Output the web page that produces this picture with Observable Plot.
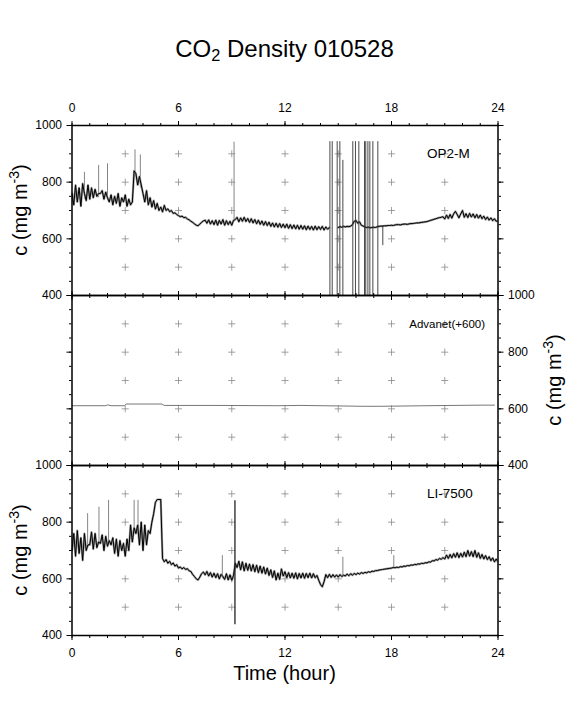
<!DOCTYPE html>
<html><head><meta charset="utf-8">
<script src="https://cdn.jsdelivr.net/npm/d3@7"></script>
<script src="https://cdn.jsdelivr.net/npm/@observablehq/plot@0.6"></script>
<style>
body{margin:0;background:#fff;}
#chart{position:relative;width:569px;height:708px;background:#fff;font-family:"Liberation Sans",Arial,Helvetica,sans-serif;overflow:hidden}
#title{position:absolute;left:0;width:569px;top:35px;text-align:center;font-size:24px;line-height:normal;color:#000}
#title sub{font-size:0.68em;position:relative;top:0.25em;vertical-align:baseline;line-height:0}
</style></head><body>
<div id="chart"><div id="title">CO<sub>2</sub> Density 010528</div></div>
<script>
// ---- data (sampled every 0.1 hour) ----
const STEP = 0.1;
const op2Values = [
 760,720,790,730,780,715,795,760,735,790,
 740,780,745,775,750,760,760,770,740,765,
 745,730,755,720,750,725,760,715,745,730,
 755,715,740,720,730,840,830,790,820,790,
 760,730,770,720,745,712,735,705,725,700,
 712,695,718,700,706,696,700,690,692,686,
 682,678,680,675,676,670,667,662,658,653,
 648,646,652,658,663,666,655,667,652,664,
 650,666,648,665,652,668,648,664,650,662,
 648,665,668,676,660,674,662,676,661,672,
 658,671,656,668,653,666,651,663,648,661,
 647,659,644,656,642,655,641,654,640,652,
 639,652,637,650,636,649,635,648,634,647,
 634,646,632,645,633,644,631,645,632,643,
 633,644,631,642,634,640,null,null,null,null,
 640,643,641,644,642,644,643,645,650,662,
 665,655,660,648,645,642,640,641,639,640,
 641,640,643,644,645,645,646,646,647,647,
 648,647,649,650,650,649,651,652,652,651,
 653,654,654,655,656,656,657,658,659,660,
 661,663,665,667,669,671,673,675,676,678,
 670,684,672,686,673,688,697,686,674,688,
 700,676,689,675,690,677,688,674,686,673,
 684,671,680,668,677,666,674,664,671,662,
 664
];
// isolated one-sample peaks (hour, peak value, local level)
const op2PeakHours = [0.7, 1.5, 2.0, 3.55, 3.85, 9.13];
const op2PeakTop   = [835, 859, 865, 914, 896, 941];
const op2PeakBase  = [740, 745, 735, 820, 780, 660];
// out-of-range samples between 14.5 h and 17.5 h
const op2SpikeHours  = [14.53,14.66,14.94,15.09,15.26,15.82,15.97,16.16,16.48,16.55,16.67,16.78,16.95,17.23,17.51];
const op2SpikeTop    = [943,943,943,943,877,943,943,943,943,943,943,943,943,943,647];
const op2SpikeBottom = [400,400,400,400,400,400,400,400,400,400,400,400,400,400,576];

const advHours  = [0,1.9,2.0,2.2,2.95,3.05,5.05,5.2,8,11.6,12.9,16.4,17.4,20,23,23.8];
const advValues = [611,611,614,611,611,617,617,612,612,611,612,609,609,611,613,613];

const liValues = [
 700,760,680,770,690,745,665,760,700,720,
 720,765,705,760,710,730,725,755,700,750,
 715,735,720,745,690,740,680,735,700,725,
 680,740,700,790,730,780,760,790,720,800,
 700,790,720,770,760,800,830,870,880,880,
 880,672,660,668,655,662,650,656,645,650,
 638,642,635,640,633,636,628,626,615,608,
 600,596,606,618,624,614,626,610,622,606,
 620,604,618,600,616,608,598,618,596,614,
 595,612,655,640,662,632,660,628,655,630,
 652,628,650,625,648,622,645,620,642,617,
 638,612,632,605,628,596,620,598,635,610,
 625,604,622,603,620,602,621,600,619,603,
 620,602,619,604,620,603,618,604,612,595,
 580,572,590,615,604,616,605,615,606,614,
 606,615,608,613,610,617,611,618,613,619,
 615,620,617,622,619,623,621,625,623,627,
 626,629,629,631,632,633,634,635,636,637,
 638,640,639,641,640,643,642,645,644,647,
 646,649,648,651,650,653,652,655,654,657,
 656,660,659,664,663,668,666,672,669,675,
 670,684,672,686,674,689,676,692,675,690,
 677,694,678,700,680,696,678,700,676,692,
 672,686,670,682,668,678,664,674,660,670,
 660
];
const liPeakHours = [0.88, 1.52, 2.06, 3.5, 3.72, 8.47, 15.26, 18.13];
const liPeakTop   = [830, 853, 877, 877, 877, 682, 676, 682];
const liPeakBase  = [710, 720, 720, 760, 760, 600, 610, 638];
const liSpikeHours  = [9.18];
const liSpikeTop    = [876];
const liSpikeBottom = [438];

const panelNames  = ["OP2-M", "Advanet(+600)", "LI-7500"];
const nameHours   = [20, 19, 20];
const nameLevel   = 900;

const hourMajor = [0, 6, 12, 18, 24];
const hourMinor = d3.range(0, 25, 1);
const concMajor = [400, 600, 800, 1000];
const concMinor = d3.range(400, 1001, 50);
const gridHours = [3, 6, 9, 12, 15, 18, 21];
const gridLevels = [500, 600, 700, 800, 900];

// ---- tables ----
const series = vals => vals.map((v, i) => ({t: i * STEP, v}));
const op2 = series(op2Values);
const li = series(liValues);
const adv = advHours.map((t, i) => ({t, v: advValues[i]}));
const spikes = (T, A, B) => T.map((t, i) => ({t, a: A[i], b: B[i]}));
const crosses = gridHours.flatMap(t => gridLevels.map(v => ({t, v})));

const FONT = '"Liberation Sans", Arial, Helvetica, sans-serif';
const W = 569, ML = 71.5, MR = 71.5, PH = 170;
const chart = document.getElementById("chart");
const fmt = d => String(d);

function axes(ySide, xSide) {
  return [
    Plot.axisX(hourMinor, {anchor: "top", tickSize: 3, fill: "none", label: null}),
    Plot.axisX(hourMinor, {anchor: "bottom", tickSize: 3, fill: "none", label: null}),
    Plot.axisX(hourMajor, {anchor: "top", tickSize: 5, tickPadding: 9, fontSize: 12, tickFormat: fmt, fill: xSide === "top" ? "black" : "none", label: null}),
    Plot.axisX(hourMajor, {anchor: "bottom", tickSize: 5, tickPadding: 8, fontSize: 12, tickFormat: fmt, fill: xSide === "bottom" ? "black" : "none", label: null}),
    Plot.axisY(concMinor, {anchor: "left", tickSize: 2.5, fill: "none", label: null}),
    Plot.axisY(concMinor, {anchor: "right", tickSize: 2.5, fill: "none", label: null}),
    Plot.axisY(concMajor, {anchor: "left", tickSize: 5, tickPadding: 5, fontSize: 12, tickFormat: fmt, fill: ySide === "left" ? "black" : "none", label: null}),
    Plot.axisY(concMajor, {anchor: "right", tickSize: 5, tickPadding: 5, fontSize: 12, tickFormat: fmt, fill: ySide === "right" ? "black" : "none", label: null})
  ];
}

function noisyLine(data) {
  return [
    Plot.line(data, {x: "t", y: "v", stroke: "#9a9a9a", strokeWidth: 2.2, clip: true}),
    Plot.line(data, {x: "t", y: "v", stroke: "#000", strokeWidth: 1.0, clip: true})
  ];
}

function panel({top, mt, mb, marks, idx, ySide, xSide}) {
  const svg = Plot.plot({
    width: W, height: mt + PH + mb,
    marginLeft: ML, marginRight: MR, marginTop: mt, marginBottom: mb,
    x: {domain: [0, 24]},
    y: {domain: [400, 1000]},
    style: {fontFamily: FONT, background: "transparent", overflow: "visible", color: "black"},
    marks: [
      Plot.dot(crosses, {x: "t", y: "v", symbol: "plus", r: 2.4, stroke: "#8a8a8a", strokeWidth: 0.8}),
      ...marks,
      Plot.text([panelNames[idx]], {x: [nameHours[idx]], y: [nameLevel], text: d => d, textAnchor: "start", fontSize: idx === 1 ? 11.5 : 13.5, fill: "black"}),
      ...axes(ySide, xSide),
      Plot.frame({stroke: "black", strokeWidth: 1.5})
    ]
  });
  svg.style.position = "absolute";
  svg.style.left = "0px";
  svg.style.top = top + "px";
  chart.appendChild(svg);
  const bx = ySide === "left" ? 27 : 561;
  const t = d3.select(svg).append("text")
    .attr("transform", `translate(${bx},${mt + PH / 2}) rotate(-90)`)
    .attr("text-anchor", "middle").attr("font-size", 20).attr("fill", "black")
    .attr("font-family", FONT);
  t.append("tspan").text("c (mg m");
  t.append("tspan").attr("font-size", 14).attr("dy", -8).text("-3");
  t.append("tspan").attr("dy", 8).text(")");
  return svg;
}

panel({top: 85, mt: 40, mb: 0, idx: 0, ySide: "left", xSide: "top", marks: [
  Plot.ruleX(spikes(op2PeakHours, op2PeakTop, op2PeakBase), {x: "t", y1: "b", y2: "a", stroke: "#777", strokeWidth: 0.9, clip: true}),
  ...noisyLine(op2),
  Plot.ruleX(spikes(op2SpikeHours, op2SpikeTop, op2SpikeBottom), {x: "t", y1: "b", y2: "a", stroke: "#333", strokeWidth: 0.9, clip: true})
]});
panel({top: 285, mt: 10, mb: 0, idx: 1, ySide: "right", xSide: "none", marks: [
  Plot.line(adv, {x: "t", y: "v", stroke: "#666", strokeWidth: 0.9, clip: true})
]});
const p3 = panel({top: 455, mt: 10, mb: 60, idx: 2, ySide: "left", xSide: "bottom", marks: [
  Plot.ruleX(spikes(liPeakHours, liPeakTop, liPeakBase), {x: "t", y1: "b", y2: "a", stroke: "#777", strokeWidth: 0.9, clip: true}),
  ...noisyLine(li),
  Plot.ruleX(spikes(liSpikeHours, liSpikeTop, liSpikeBottom), {x: "t", y1: "b", y2: "a", stroke: "#222", strokeWidth: 1.3, clip: true})
]});
d3.select(p3).append("text").attr("x", 284.5).attr("y", 225)
  .attr("text-anchor", "middle").attr("font-size", 20).attr("fill", "black")
  .attr("font-family", FONT).text("Time (hour)");
</script>
</body></html>
